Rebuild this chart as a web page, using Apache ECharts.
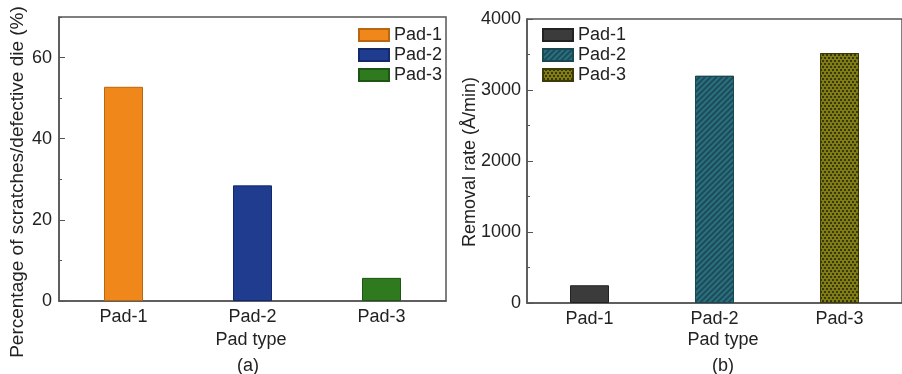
<!DOCTYPE html>
<html>
<head>
<meta charset="utf-8">
<script src="https://cdn.jsdelivr.net/npm/echarts@6/dist/echarts.min.js"></script>
<style>
html,body{margin:0;padding:0;background:#fff;}
#c{width:902px;height:374px;}
</style>
</head>
<body>
<div id="c"></div>
<script>
var categories = ['Pad-1', 'Pad-2', 'Pad-3'];
var seriesNames = ['Pad-1', 'Pad-2', 'Pad-3'];
var scratchPct = [52.8, 28.5, 5.7];
var removalRate = [250, 3200, 3520];
var leftTicks = [0, 20, 40, 60];
var rightTicks = [0, 1000, 2000, 3000, 4000];

var FONT = '"Liberation Sans", Arial, sans-serif';
var TXT = '#222';
var AX = '#555';

var leftColors = ['#f0871a', '#1f3c8f', '#2f7a1e'];
var leftBorders = ['#b8660f', '#14296a', '#1d5512'];
var rightColors = ['#3b3b3b', '#2b7080', '#807d14'];
var rightBorders = ['#222', '#1a4852', '#3c3a06'];
var rightDecals = [
  null,
  {symbol: 'rect', symbolSize: 1, dashArrayX: [1, 0], dashArrayY: [1.5, 1.5], rotation: -Math.PI / 4, color: 'rgba(15,45,55,0.55)'},
  {symbol: 'rect', symbolSize: 1, dashArrayX: [[2, 2], [0, 2, 2, 0]], dashArrayY: [2, 1], color: '#3a3806'}
];

function oneHot(values, i) {
  return values.map(function (v, j) { return j === i ? v : null; });
}

var series = [];
seriesNames.forEach(function (name, i) {
  series.push({
    name: 'a:' + name, type: 'bar', xAxisIndex: 0, yAxisIndex: 0, stack: 'a',
    barWidth: 39, data: oneHot(scratchPct, i),
    itemStyle: {color: leftColors[i], borderColor: leftBorders[i], borderWidth: 1}
  });
});
seriesNames.forEach(function (name, i) {
  var st = {color: rightColors[i], borderColor: rightBorders[i], borderWidth: 1};
  if (rightDecals[i]) st.decal = rightDecals[i];
  series.push({
    name: 'b:' + name, type: 'bar', xAxisIndex: 1, yAxisIndex: 2, stack: 'b',
    barWidth: 39, data: oneHot(removalRate, i), itemStyle: st
  });
});

function xAxisDef(gi) {
  return {
    type: 'category', gridIndex: gi, data: categories,
    axisLine: {lineStyle: {color: AX, width: 1.5}},
    axisTick: {inside: true, alignWithLabel: true, length: 5, lineStyle: {color: AX}},
    axisLabel: {color: TXT, fontFamily: FONT, fontSize: 18, margin: 7}
  };
}

function legendDef(prefix, left) {
  return {
    data: seriesNames.map(function (n) { return {name: prefix + n}; }),
    formatter: function (n) { return n.slice(2); },
    icon: 'rect', left: left, top: 26, orient: 'vertical',
    itemWidth: 30, itemHeight: 12, itemGap: 2, padding: 0,
    textStyle: {color: TXT, fontFamily: FONT, fontSize: 18}
  };
}

var option = {
  animation: false,
  backgroundColor: '#fff',
  grid: [
    {left: 59, top: 17, width: 387, height: 284, show: true, borderColor: AX, borderWidth: 1.5, backgroundColor: 'transparent'},
    {left: 527, top: 19, width: 387, height: 284, show: true, borderColor: AX, borderWidth: 1.5, backgroundColor: 'transparent'}
  ],
  legend: [legendDef('a:', 358), legendDef('b:', 542)],
  xAxis: [xAxisDef(0), xAxisDef(1)],
  yAxis: [
    {type: 'value', gridIndex: 0, min: 0, max: 70, interval: 20,
     axisLine: {show: true, lineStyle: {color: AX, width: 1.5}},
     axisTick: {show: true, inside: true, length: 6, lineStyle: {color: AX}},
     axisLabel: {color: TXT, fontFamily: FONT, fontSize: 18, margin: 7, showMaxLabel: false,
       formatter: function (v) { return leftTicks.indexOf(v) >= 0 ? String(v) : ''; }},
     splitLine: {show: false}},
    {type: 'value', gridIndex: 0, min: 0, max: 70, interval: 10, position: 'left',
     axisLine: {show: false}, axisLabel: {show: false}, splitLine: {show: false},
     axisTick: {show: true, inside: true, length: 3, lineStyle: {color: AX}}},
    {type: 'value', gridIndex: 1, min: 0, max: 4000, interval: 1000,
     axisLine: {show: true, lineStyle: {color: AX, width: 1.5}},
     axisTick: {show: true, inside: true, length: 6, lineStyle: {color: AX}},
     minorTick: {show: true, splitNumber: 2, length: 3, lineStyle: {color: AX}},
     axisLabel: {color: TXT, fontFamily: FONT, fontSize: 18, margin: 6,
       formatter: function (v) { return rightTicks.indexOf(v) >= 0 ? String(v) : ''; }},
     splitLine: {show: false}}
  ],
  graphic: [
    {type: 'text', x: 18, y: 182, rotation: Math.PI / 2,
     style: {text: 'Percentage of scratches/defective die (%)', font: '19px ' + FONT, fill: TXT, align: 'center', verticalAlign: 'middle'}},
    {type: 'text', x: 470, y: 162, rotation: Math.PI / 2,
     style: {text: 'Removal rate (Å/min)', font: '18px ' + FONT, fill: TXT, align: 'center', verticalAlign: 'middle'}},
    {type: 'text', x: 251, y: 340, style: {text: 'Pad type', font: '18px ' + FONT, fill: TXT, align: 'center', verticalAlign: 'middle'}},
    {type: 'text', x: 248, y: 366, style: {text: '(a)', font: '18px ' + FONT, fill: TXT, align: 'center', verticalAlign: 'middle'}},
    {type: 'text', x: 723, y: 340, style: {text: 'Pad type', font: '18px ' + FONT, fill: TXT, align: 'center', verticalAlign: 'middle'}},
    {type: 'text', x: 723, y: 366, style: {text: '(b)', font: '18px ' + FONT, fill: TXT, align: 'center', verticalAlign: 'middle'}}
  ],
  series: series
};

var chart = echarts.init(document.getElementById('c'), null, {renderer: 'canvas'});
chart.setOption(option);
</script>
</body>
</html>
